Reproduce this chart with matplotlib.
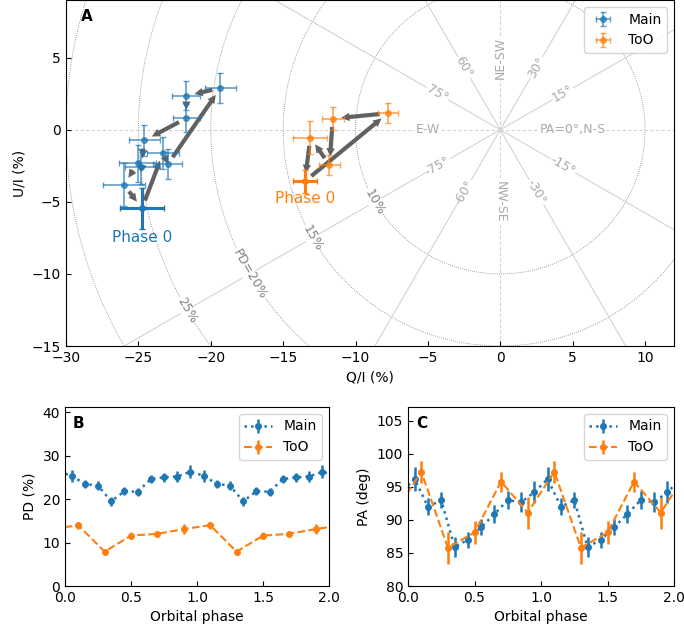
import numpy as np
import matplotlib
matplotlib.use('Agg')
import matplotlib.pyplot as plt

# --- Main campaign, 10 phase bins ---
phase_main = [0.05, 0.15, 0.25, 0.35, 0.45, 0.55, 0.65, 0.75, 0.85, 0.95]
q_main = [-24.75, -23.3, -22.96, -19.33, -21.69, -21.69, -24.58, -24.8, -25.05, -26.0]
u_main = [-5.45, -1.6, -2.38, 2.9, 2.35, 0.8, -0.74, -2.56, -2.33, -3.82]
qerr_main = [1.5, 1.1, 1.0, 1.07, 0.96, 0.93, 1.05, 1.13, 1.27, 1.44]
uerr_main = [1.4, 1.1, 1.04, 1.04, 1.0, 0.97, 1.1, 1.2, 1.3, 1.5]
pd_main = [25.4, 23.5, 23.1, 19.5, 21.8, 21.7, 24.6, 25.0, 25.2, 26.3]
pderr_main = [1.4, 0.9, 1.0, 1.0, 0.9, 0.9, 1.0, 1.1, 1.2, 1.5]
pa_main = [96.2, 92.0, 93.0, 85.9, 87.0, 88.9, 90.9, 93.0, 92.7, 94.2]
paerr_main = [1.75, 1.3, 1.25, 1.5, 1.25, 1.25, 1.3, 1.4, 1.5, 1.7]

# --- ToO campaign, 5 phase bins ---
phase_too = [0.1, 0.3, 0.5, 0.7, 0.9]
q_too = [-13.5, -7.76, -11.57, -11.8, -13.12]
u_too = [-3.58, 1.15, 0.77, -2.44, -0.54]
qerr_too = [0.83, 0.72, 0.77, 0.7, 1.18]
uerr_too = [0.81, 0.7, 0.8, 0.7, 1.15]
pd_too = [14.0, 7.9, 11.6, 12.0, 13.1]
pderr_too = [0.8, 0.7, 0.8, 0.7, 1.1]
pa_too = [97.3, 85.8, 88.1, 95.8, 91.1]
paerr_too = [1.7, 2.4, 1.8, 1.5, 2.4]

pd_circles = [10, 15, 20, 25, 30]
pd_labels = ['10%', '15%', 'PD=20%', '25%']
pa_angles = [0, 15, 30, 45, 60, 75, 90, -75, -60, -45, -30, -15]
pa_names = ['PA=0°,N-S', '15°', '30°', 'NE-SW', '60°', '75°', 'E-W',
            '-75°', '-60°', 'NW-SE', '-30°', '-15°']

fig = plt.figure(figsize=(6.84, 6.3), dpi=100)
ax = fig.add_axes([66/684, 1-346/630, 608/684, 346/630])
axb = fig.add_axes([65/684, 44/630, 264/684, 179/630])
axc = fig.add_axes([408/684, 44/630, 266/684, 179/630])

# ---------- panel A : Q/U plane ----------
t = np.linspace(0, 2*np.pi, 400)
for r in pd_circles:
    ax.plot(r*np.cos(t), r*np.sin(t), color='gray', ls=(0, (1, 1.5)), lw=0.6, zorder=1)
for r, lab in zip(pd_circles, pd_labels):
    ang = np.radians(210)
    ax.text(r*np.cos(ang), r*np.sin(ang), lab, rotation=-60, color='gray', fontsize=9,
            ha='center', va='center', zorder=2,
            bbox=dict(facecolor='white', edgecolor='none', pad=0.5))

for pa, lab in zip(pa_angles, pa_names):
    ang = np.radians(2*pa)
    if pa in (0, 45, 90, -45):
        ax.plot([0, 40*np.cos(ang)], [0, 40*np.sin(ang)], color='lightgray', ls=(0, (3, 2)), lw=0.8, zorder=1)
    else:
        ax.plot([0, 40*np.cos(ang)], [0, 40*np.sin(ang)], color='lightgray', lw=0.8, zorder=1)
    rot = np.degrees(ang)
    if rot > 90:
        rot -= 180
    if rot < -90:
        rot += 180
    if pa == 45:
        rot = 90
    if pa == -45:
        rot = -90
    ax.text(5*np.cos(ang), 5*np.sin(ang), lab, rotation=rot, color='darkgray', fontsize=9,
            ha='center', va='center', zorder=2, rotation_mode='anchor',
            bbox=dict(facecolor='white', edgecolor='none', pad=0.5))

# arrows between consecutive phases
def draw_arrows(q, u):
    n = len(q)
    for i in range(n):
        j = (i + 1) % n
        ax.annotate('', xy=(q[j], u[j]), xytext=(q[i], u[i]),
                    arrowprops=dict(arrowstyle='simple,head_length=0.6,head_width=0.6,tail_width=0.3',
                                    color='0.38', shrinkA=6, shrinkB=6, lw=0), zorder=3)

draw_arrows(q_main, u_main)
draw_arrows(q_too, u_too)

# data points, phase 0 emphasised
ax.errorbar(q_main[1:], u_main[1:], xerr=qerr_main[1:], yerr=uerr_main[1:], fmt='o', ms=4,
            color='C0', alpha=0.7, capsize=2, lw=1.2, zorder=4, label='Main')
ax.errorbar(q_main[0], u_main[0], xerr=qerr_main[0], yerr=uerr_main[0], fmt='o', ms=4,
            color='C0', capsize=2, lw=2.2, zorder=5)
ax.errorbar(q_too[1:], u_too[1:], xerr=qerr_too[1:], yerr=uerr_too[1:], fmt='o', ms=4,
            color='C1', alpha=0.7, capsize=2, lw=1.2, zorder=4, label='ToO')
ax.errorbar(q_too[0], u_too[0], xerr=qerr_too[0], yerr=uerr_too[0], fmt='o', ms=4,
            color='C1', capsize=2, lw=2.2, zorder=5)

ax.text(-24.75, -7.5, 'Phase 0', color='C0', fontsize=11, ha='center', va='center')
ax.text(-13.45, -4.8, 'Phase 0', color='C1', fontsize=11, ha='center', va='center')

ax.set_xlim(-30, 12)
ax.set_ylim(-15, 9)
ax.set_xticks(np.arange(-30, 11, 5))
ax.set_yticks([-15, -10, -5, 0, 5])
ax.set_xlabel('Q/I (%)')
ax.set_ylabel('U/I (%)')
ax.tick_params(direction='in')
ax.legend(loc='upper right', fontsize=10)
ax.text(0.025, 0.975, 'A', transform=ax.transAxes, fontweight='bold', fontsize=11,
        ha='left', va='top')

# ---------- panels B and C : vs orbital phase ----------
def periodic(ph, vals):
    x = []
    y = []
    for k in (-1, 0, 1, 2):
        x += [p + k for p in ph]
        y += list(vals)
    return x, y

for axx, m, me, t_, te in ((axb, pd_main, pderr_main, pd_too, pderr_too),
                           (axc, pa_main, paerr_main, pa_too, paerr_too)):
    x, y = periodic(phase_main, m)
    _, ye = periodic(phase_main, me)
    axx.errorbar(x, y, yerr=ye, fmt='o:', ms=4, color='C0', elinewidth=1.8, lw=1.8, label='Main')
    x, y = periodic(phase_too, t_)
    _, ye = periodic(phase_too, te)
    axx.errorbar(x, y, yerr=ye, fmt='o--', ms=4, color='C1', elinewidth=1.8, lw=1.5, label='ToO')
    axx.set_xlim(0, 2)
    axx.set_xticks([0, 0.5, 1.0, 1.5, 2.0])
    axx.set_xlabel('Orbital phase')
    axx.tick_params(direction='in')
    axx.legend(loc='upper right', fontsize=10)

axb.set_ylim(0, 41.2)
axb.set_yticks([0, 10, 20, 30, 40])
axb.set_ylabel('PD (%)')
axb.text(0.03, 0.95, 'B', transform=axb.transAxes, fontweight='bold', fontsize=11, ha='left', va='top')

axc.set_ylim(80, 107.1)
axc.set_yticks([80, 85, 90, 95, 100, 105])
axc.set_ylabel('PA (deg)')
axc.text(0.03, 0.95, 'C', transform=axc.transAxes, fontweight='bold', fontsize=11, ha='left', va='top')

fig.savefig('out.png', dpi=100)
